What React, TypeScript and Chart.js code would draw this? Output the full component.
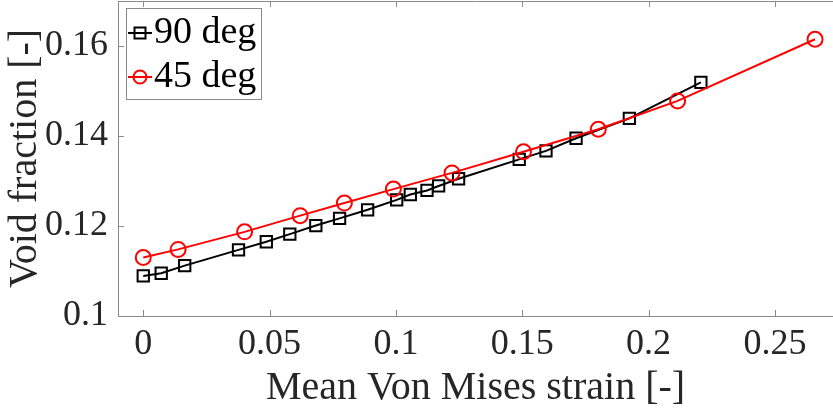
import React, { useEffect, useRef } from 'react';
import { Chart, registerables } from 'chart.js';

Chart.register(...registerables);

// ---- data ----
const seriesLabels = ['90 deg', '45 deg'];
const strain90 = [0, 0.0071, 0.0164, 0.0377, 0.0487, 0.058, 0.0683, 0.0777, 0.0888, 0.1003, 0.1057, 0.1123, 0.1169, 0.1248, 0.1488, 0.1594, 0.1713, 0.1924, 0.2207];
const void90 = [0.1089, 0.1095, 0.1112, 0.1147, 0.1165, 0.1182, 0.1201, 0.1217, 0.1236, 0.1258, 0.127, 0.1279, 0.1289, 0.1305, 0.1348, 0.1367, 0.1395, 0.1439, 0.1519];
const strain45 = [0, 0.0138, 0.0401, 0.0621, 0.0796, 0.099, 0.1222, 0.1505, 0.1801, 0.2115, 0.2659];
const void45 = [0.113, 0.1148, 0.1187, 0.1223, 0.1251, 0.1282, 0.1318, 0.1365, 0.1415, 0.1478, 0.1615];
const xTicks = [0, 0.05, 0.1, 0.15, 0.2, 0.25];
const yTicks = [0.1, 0.12, 0.14, 0.16];
const xTitle = 'Mean Von Mises strain [-]';
const yTitle = 'Void fraction [-]';

const FONT = '"Liberation Serif", "Times New Roman", serif';
const AXIS = '#8a8a8a';
const TEXT = '#262626';

const boxPlugin = {
  id: 'matlabBox',
  beforeDatasetsDraw(chart: any) {
    const { ctx, chartArea } = chart;
    const { left, right, top, bottom } = chartArea;
    const xs = chart.scales.x;
    const ys = chart.scales.y;
    const tl = 6;
    ctx.save();
    ctx.strokeStyle = AXIS;
    ctx.lineWidth = 1;
    ctx.beginPath();
    ctx.moveTo(left, top + 0.5);
    ctx.lineTo(right, top + 0.5);
    xs.ticks.forEach((t: any) => {
      const px = Math.round(xs.getPixelForValue(t.value)) + 0.5;
      ctx.moveTo(px, bottom);
      ctx.lineTo(px, bottom - tl);
      ctx.moveTo(px, top);
      ctx.lineTo(px, top + tl);
    });
    ys.ticks.forEach((t: any) => {
      const py = Math.round(ys.getPixelForValue(t.value)) + 0.5;
      ctx.moveTo(left, py);
      ctx.lineTo(left + tl, py);
    });
    ctx.stroke();
    ctx.restore();
  },
};

const legendPlugin = {
  id: 'matlabLegend',
  afterDraw(chart: any) {
    const { ctx, chartArea } = chart;
    const bx = chartArea.left + 8;
    const by = chartArea.top + 7;
    const bw = 135;
    const bh = 91;
    ctx.save();
    ctx.fillStyle = '#ffffff';
    ctx.fillRect(bx, by, bw, bh);
    ctx.strokeStyle = AXIS;
    ctx.lineWidth = 1;
    ctx.strokeRect(bx + 0.5, by + 0.5, bw, bh);
    chart.data.datasets.forEach((ds: any, i: number) => {
      const cy = by + 25 + i * 44;
      const x0 = bx + 2;
      const x1 = bx + 26;
      const cx = (x0 + x1) / 2;
      ctx.strokeStyle = ds.borderColor;
      ctx.lineWidth = 2;
      ctx.beginPath();
      ctx.moveTo(x0, cy);
      ctx.lineTo(x1, cy);
      ctx.stroke();
      ctx.beginPath();
      if (ds.pointStyle === 'rect') {
        ctx.rect(cx - 5.5, cy - 5.5, 11, 11);
      } else {
        ctx.arc(cx, cy, 6.5, 0, Math.PI * 2);
      }
      ctx.stroke();
      ctx.fillStyle = '#000000';
      ctx.font = `38px ${FONT}`;
      ctx.textAlign = 'left';
      ctx.textBaseline = 'middle';
      ctx.fillText(ds.label, x1 + 2, cy + 0.5);
    });
    ctx.restore();
  },
};

export default function App() {
  const ref = useRef<HTMLCanvasElement | null>(null);

  useEffect(() => {
    if (!ref.current) return;
    const chart = new Chart(ref.current, {
      type: 'line',
      data: {
        datasets: [
          {
            label: seriesLabels[0],
            data: strain90.map((x, i) => ({ x, y: void90[i] })),
            borderColor: '#000000',
            backgroundColor: 'rgba(0,0,0,0)',
            borderWidth: 2,
            pointStyle: 'rect',
            pointRadius: 8,
            pointBorderWidth: 2,
            pointBackgroundColor: 'rgba(0,0,0,0)',
            pointBorderColor: '#000000',
            tension: 0,
            order: 1,
          },
          {
            label: seriesLabels[1],
            data: strain45.map((x, i) => ({ x, y: void45[i] })),
            borderColor: '#ff0000',
            backgroundColor: 'rgba(0,0,0,0)',
            borderWidth: 2,
            pointStyle: 'circle',
            pointRadius: 7.5,
            pointBorderWidth: 2,
            pointBackgroundColor: 'rgba(0,0,0,0)',
            pointBorderColor: '#ff0000',
            tension: 0,
            order: 0,
          },
        ],
      },
      options: {
        animation: false,
        responsive: false,
        devicePixelRatio: 1,
        layout: { autoPadding: false, padding: { top: 1, right: 0, left: 0, bottom: 0 } },
        plugins: {
          legend: { display: false },
          tooltip: { enabled: false },
        },
        scales: {
          x: {
            type: 'linear',
            position: 'bottom',
            min: -0.01,
            max: 0.273,
            afterBuildTicks: (s: any) => {
              s.ticks = xTicks.map((v) => ({ value: v }));
            },
            afterFit: (s: any) => {
              s.height = 99;
              s.paddingLeft = 0;
              s.paddingRight = 0;
              s.paddingTop = 0;
              s.paddingBottom = 0;
            },
            grid: { display: false, drawTicks: false },
            border: { display: true, color: AXIS, width: 1 },
            ticks: {
              padding: 7,
              color: TEXT,
              font: { family: FONT, size: 36 },
              maxRotation: 0,
              autoSkip: false,
              callback: (v: any) => String(v),
            },
            title: {
              display: true,
              text: xTitle,
              color: TEXT,
              font: { family: FONT, size: 40 },
              padding: { top: 0, bottom: 3 },
            },
          },
          y: {
            type: 'linear',
            position: 'left',
            min: 0.1,
            max: 0.17,
            afterBuildTicks: (s: any) => {
              s.ticks = yTicks.map((v) => ({ value: v }));
            },
            afterFit: (s: any) => {
              s.width = 118;
              s.paddingLeft = 0;
              s.paddingRight = 0;
              s.paddingTop = 0;
              s.paddingBottom = 0;
            },
            grid: { display: false, drawTicks: false },
            border: { display: true, color: AXIS, width: 1 },
            ticks: {
              padding: 10,
              color: TEXT,
              font: { family: FONT, size: 36 },
              autoSkip: false,
              callback: (v: any) => String(v),
            },
            title: {
              display: true,
              text: yTitle,
              color: TEXT,
              font: { family: FONT, size: 40 },
              padding: { top: 1.5, bottom: 0 },
            },
          },
        },
      },
      plugins: [boxPlugin, legendPlugin],
    });
    return () => chart.destroy();
  }, []);

  return (
    <div style={{ position: 'absolute', left: 0, top: 0, width: 833, height: 415, background: '#fff' }}>
      <canvas ref={ref} width={833} height={415} style={{ display: 'block' }} />
    </div>
  );
}
